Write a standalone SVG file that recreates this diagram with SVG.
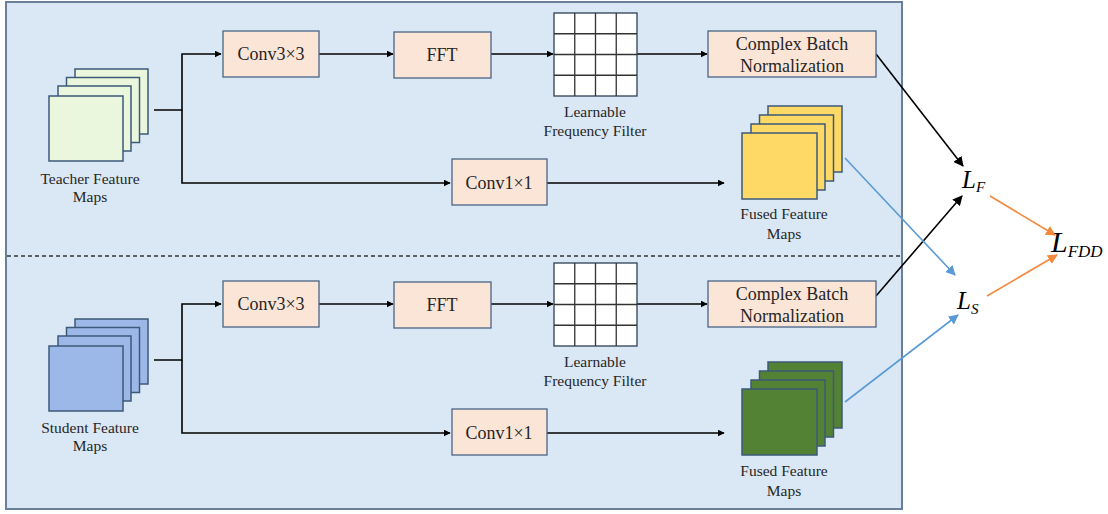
<svg xmlns="http://www.w3.org/2000/svg" width="1108" height="514" viewBox="0 0 1108 514" font-family="'Liberation Serif', 'Times New Roman', serif">
<defs>
<style>
.box{fill:#fbe5d6;stroke:#4a6584;stroke-width:1.3}
.t{fill:#262626}
.bt{font-size:18px;text-anchor:middle}
.lt{font-size:15.5px;text-anchor:middle}
.fm{stroke:#3d5878;stroke-width:1.5}
.k{stroke:#000;stroke-width:1.6;fill:none}
.b{stroke:#5b9bd5;stroke-width:1.6;fill:none}
.o{stroke:#f4883c;stroke-width:1.6;fill:none}
.L{font-style:italic;fill:#000}
</style>
<marker id="ak" viewBox="0 0 10 10" refX="9" refY="5" markerWidth="7" markerHeight="7" markerUnits="userSpaceOnUse" orient="auto"><path d="M0,0L10,5L0,10z" fill="#000"/></marker>
<marker id="ak2" viewBox="0 0 10 10" refX="9" refY="5" markerWidth="10" markerHeight="10" markerUnits="userSpaceOnUse" orient="auto"><path d="M0,0L10,5L0,10z" fill="#000"/></marker>
<marker id="ab" viewBox="0 0 10 10" refX="9" refY="5" markerWidth="10" markerHeight="10" markerUnits="userSpaceOnUse" orient="auto"><path d="M0,0L10,5L0,10z" fill="#5b9bd5"/></marker>
<marker id="ao" viewBox="0 0 10 10" refX="9" refY="5" markerWidth="10" markerHeight="10" markerUnits="userSpaceOnUse" orient="auto"><path d="M0,0L10,5L0,10z" fill="#f4883c"/></marker>
</defs>
<rect width="1108" height="514" fill="#fff"/>
<g id="panel">
<rect x="6" y="2" width="896" height="507" fill="#dae8f5" stroke="#6a7f99" stroke-width="2"/>
<line x1="7" y1="256" x2="901" y2="256" stroke="#333" stroke-width="1.3" stroke-dasharray="4,3"/>
</g>
<g id="connectors">
<path class="k" d="M154,110H182V54H221" marker-end="url(#ak)"/>
<path class="k" d="M182,110V183H450" marker-end="url(#ak)"/>
<path class="k" d="M319,54H393" marker-end="url(#ak)"/>
<path class="k" d="M491,54H553" marker-end="url(#ak)"/>
<path class="k" d="M637,54H707" marker-end="url(#ak)"/>
<path class="k" d="M547,183H724" marker-end="url(#ak)"/>
<path class="k" d="M154,360H182V304H221" marker-end="url(#ak)"/>
<path class="k" d="M182,360V433H450" marker-end="url(#ak)"/>
<path class="k" d="M319,304H393" marker-end="url(#ak)"/>
<path class="k" d="M491,304H553" marker-end="url(#ak)"/>
<path class="k" d="M637,304H707" marker-end="url(#ak)"/>
<path class="k" d="M547,433H724" marker-end="url(#ak)"/>
<path class="k" d="M876,54L963,166" marker-end="url(#ak2)"/>
<path class="k" d="M876,296L962,196" marker-end="url(#ak2)"/>
<path class="b" d="M845,158L955,275" marker-end="url(#ab)"/>
<path class="b" d="M845,402L958,315" marker-end="url(#ab)"/>
<path class="o" d="M990,196L1055,235" marker-end="url(#ao)"/>
<path class="o" d="M987,296L1057,255" marker-end="url(#ao)"/>
</g>
<g id="teacher-maps">
<rect class="fm" x="75" y="69" width="73" height="65" fill="#ebf7dd"/>
<rect class="fm" x="66.5" y="77.5" width="73" height="65" fill="#ebf7dd"/>
<rect class="fm" x="58" y="86" width="73" height="65" fill="#ebf7dd"/>
<rect class="fm" x="49" y="96" width="74" height="65" fill="#ebf7dd"/>
<text class="t lt" x="90" y="184">Teacher Feature</text>
<text class="t lt" x="90" y="202">Maps</text>
</g>
<g id="t-conv3"><rect class="box" x="223" y="31" width="96" height="46"/><text class="t bt" x="271" y="60">Conv3×3</text></g>
<g id="t-fft"><rect class="box" x="394" y="32" width="97" height="46"/><text class="t bt" x="442" y="61">FFT</text></g>
<g id="t-filter">
<rect x="554" y="13" width="83" height="83" fill="#fff" stroke="#2e3f55" stroke-width="1.3"/>
<path d="M574.75,13V96M595.5,13V96M616.25,13V96M554,33.75H637M554,54.5H637M554,75.25H637" stroke="#333" stroke-width="1.3"/>
<text class="t lt" x="595" y="117">Learnable</text>
<text class="t lt" x="595" y="136">Frequency Filter</text>
</g>
<g id="t-cbn"><rect class="box" x="708" y="31" width="168" height="46"/><text class="t bt" x="792" y="50">Complex Batch</text><text class="t bt" x="792" y="72">Normalization</text></g>
<g id="t-conv1"><rect class="box" x="452" y="159" width="95" height="46"/><text class="t bt" x="499" y="189">Conv1×1</text></g>
<g id="t-fused">
<rect class="fm" x="768" y="106" width="74" height="66" fill="#ffd966"/>
<rect class="fm" x="759.5" y="115" width="74" height="66" fill="#ffd966"/>
<rect class="fm" x="751" y="124" width="74" height="66" fill="#ffd966"/>
<rect class="fm" x="742" y="133" width="75" height="66" fill="#ffd966"/>
<text class="t lt" x="784" y="219">Fused Feature</text>
<text class="t lt" x="784" y="239">Maps</text>
</g>
<g id="student-maps">
<rect class="fm" x="75" y="319" width="73" height="65" fill="#9cb8e8"/>
<rect class="fm" x="66.5" y="327.5" width="73" height="65" fill="#9cb8e8"/>
<rect class="fm" x="58" y="336" width="73" height="65" fill="#9cb8e8"/>
<rect class="fm" x="49" y="346" width="74" height="65" fill="#9cb8e8"/>
<text class="t lt" x="90" y="433">Student Feature</text>
<text class="t lt" x="90" y="451">Maps</text>
</g>
<g id="s-conv3"><rect class="box" x="223" y="281" width="96" height="46"/><text class="t bt" x="271" y="310">Conv3×3</text></g>
<g id="s-fft"><rect class="box" x="394" y="282" width="97" height="46"/><text class="t bt" x="442" y="311">FFT</text></g>
<g id="s-filter">
<rect x="554" y="263" width="83" height="83" fill="#fff" stroke="#2e3f55" stroke-width="1.3"/>
<path d="M574.75,263V346M595.5,263V346M616.25,263V346M554,283.75H637M554,304.5H637M554,325.25H637" stroke="#333" stroke-width="1.3"/>
<text class="t lt" x="595" y="367">Learnable</text>
<text class="t lt" x="595" y="386">Frequency Filter</text>
</g>
<g id="s-cbn"><rect class="box" x="708" y="281" width="168" height="46"/><text class="t bt" x="792" y="300">Complex Batch</text><text class="t bt" x="792" y="322">Normalization</text></g>
<g id="s-conv1"><rect class="box" x="452" y="409" width="95" height="46"/><text class="t bt" x="499" y="439">Conv1×1</text></g>
<g id="s-fused">
<rect class="fm" x="768" y="362" width="74" height="66" fill="#548235"/>
<rect class="fm" x="759.5" y="371" width="74" height="66" fill="#548235"/>
<rect class="fm" x="751" y="380" width="74" height="66" fill="#548235"/>
<rect class="fm" x="742" y="389" width="75" height="66" fill="#548235"/>
<text class="t lt" x="784" y="476">Fused Feature</text>
<text class="t lt" x="784" y="496">Maps</text>
</g>
<g id="LF"><text class="L" x="962" y="188" font-size="25">L<tspan font-size="15" dy="4">F</tspan></text></g>
<g id="LS"><text class="L" x="957" y="309" font-size="25">L<tspan font-size="15" dy="5">S</tspan></text></g>
<g id="LFDD"><text class="L" x="1051" y="252" font-size="30">L<tspan font-size="17" dy="5">FDD</tspan></text></g>
</svg>
